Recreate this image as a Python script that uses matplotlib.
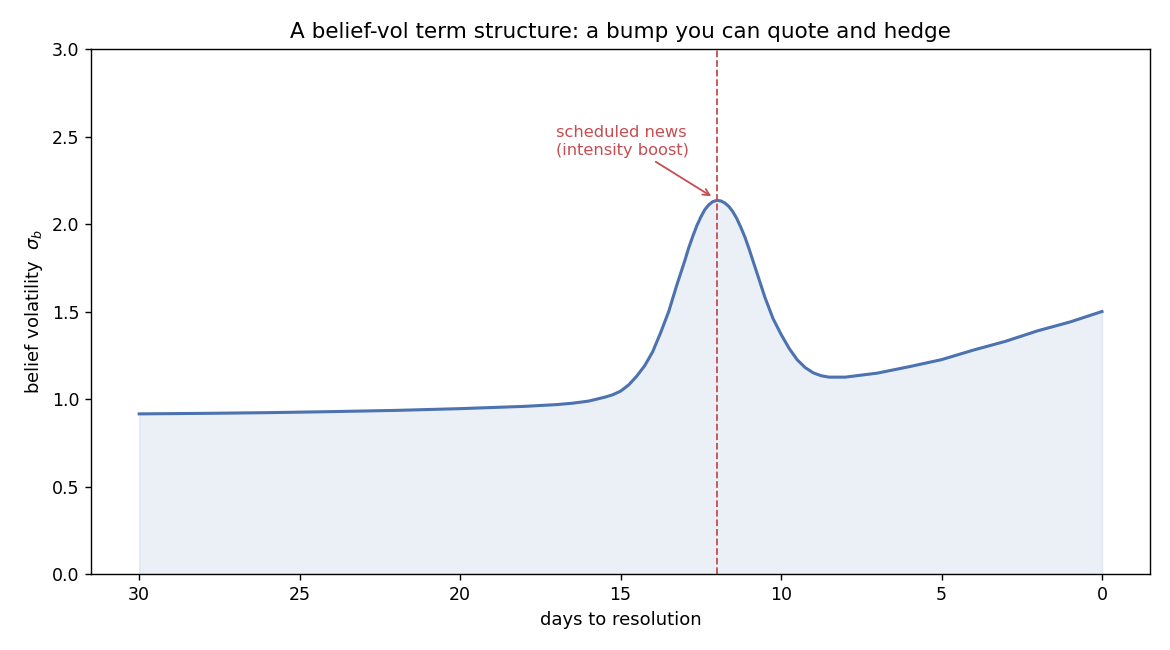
import matplotlib
matplotlib.use("Agg")
import matplotlib.pyplot as plt

days = [30, 28, 26, 24, 22, 20, 18, 17, 16.5, 16, 15.5, 15.25, 15, 14.75, 14.5,
        14.25, 14, 13.75, 13.5, 13.25, 13.125, 13, 12.875, 12.75, 12.625, 12.5,
        12.375, 12.25, 12.125, 12, 11.875, 11.75, 11.625, 11.5, 11.375, 11.25,
        11.125, 11, 10.875, 10.75, 10.625, 10.5, 10.25, 10, 9.75, 9.5, 9.25, 9,
        8.75, 8.5, 8, 7, 6, 5, 4, 3, 2, 1, 0]
sigma_b = [0.915, 0.918, 0.922, 0.928, 0.935, 0.945, 0.958, 0.968, 0.976, 0.988,
           1.010, 1.024, 1.045, 1.08, 1.13, 1.19, 1.27, 1.38, 1.50, 1.65, 1.72,
           1.79, 1.865, 1.93, 1.99, 2.04, 2.082, 2.11, 2.128, 2.135, 2.132, 2.12,
           2.10, 2.07, 2.03, 1.98, 1.925, 1.86, 1.79, 1.72, 1.65, 1.58, 1.46,
           1.37, 1.29, 1.225, 1.18, 1.15, 1.133, 1.125, 1.125, 1.148, 1.185,
           1.225, 1.28, 1.33, 1.39, 1.44, 1.50]
news_day = 12
annot_xy = (12.1, 2.15)
annot_text_xy = (17.0, 2.38)

blue = "#4C72B0"
red = "#C44E52"

plt.rcParams.update({
    "axes.linewidth": 1.0,
    "xtick.major.size": 4.2, "ytick.major.size": 4.2,
    "xtick.major.width": 1.0, "ytick.major.width": 1.0,
    "xtick.major.pad": 4.2, "ytick.major.pad": 4.2,
})

fig = plt.figure(figsize=(11.7, 6.5), dpi=100)
ax = fig.add_axes([0.0778, 0.1169, 0.983 - 0.0778, 0.9246 - 0.1169])

ax.plot(days, sigma_b, color=blue, lw=2.2)
ax.fill_between(days, 0, sigma_b, color=blue, alpha=0.11, lw=1)
ax.axvline(news_day, color=red, ls="--", lw=1.3)
ax.annotate("scheduled news\n(intensity boost)", xy=annot_xy, xytext=annot_text_xy,
            color=red, fontsize=11.7, ha="left", va="bottom",
            arrowprops=dict(arrowstyle="->", color=red, lw=1.3))

ax.set_xlim(31.5, -1.5)
ax.set_ylim(0, 3.0)
ax.set_xticks([30, 25, 20, 15, 10, 5, 0])
ax.set_yticks([0, 0.5, 1.0, 1.5, 2.0, 2.5, 3.0])
ax.tick_params(labelsize=12.5)
ax.set_xlabel("days to resolution", fontsize=13, labelpad=5)
ax.set_ylabel(r"belief volatility  $\sigma_b$", fontsize=13, labelpad=5)
ax.set_title("A belief-vol term structure: a bump you can quote and hedge",
             fontsize=15.5, pad=8)

fig.savefig("out.png", dpi=100)
